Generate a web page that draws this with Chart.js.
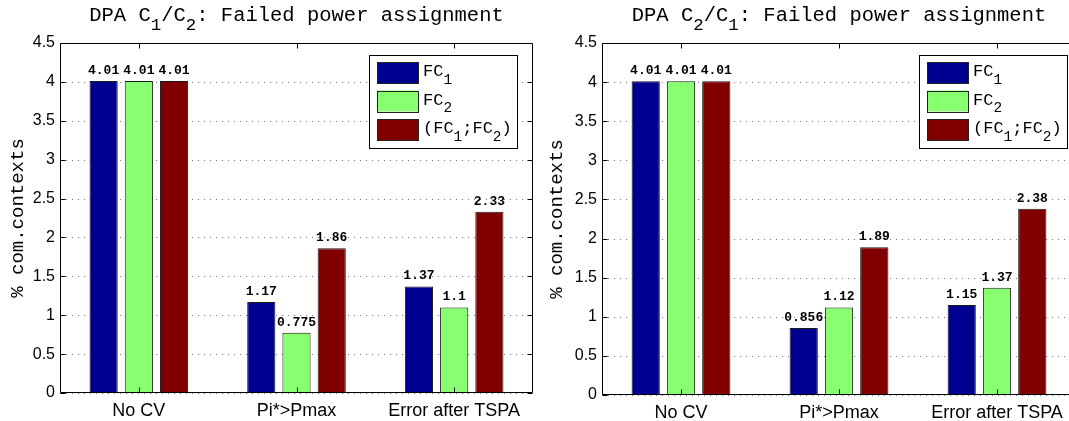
<!DOCTYPE html>
<html>
<head>
<meta charset="utf-8">
<script src="https://cdn.jsdelivr.net/npm/chart.js@4.4.0/dist/chart.umd.min.js"></script>
<style>
  html, body { margin: 0; padding: 0; background: #fff; }
  #wrap { position: relative; width: 1069px; height: 421px; overflow: hidden; background: #fff; }
  #wrap canvas { position: absolute; top: 0; }
</style>
</head>
<body>
<div id="wrap">
  <canvas id="leftChart" width="540" height="421" style="left:0px"></canvas>
  <canvas id="rightChart" width="560" height="421" style="left:535px"></canvas>
</div>
<script>
// --- data ---
const categories = ['No CV', 'Pi*>Pmax', 'Error after TSPA'];
const seriesNames = ['FC_1', 'FC_2', '(FC_1;FC_2)'];
const yTicks = [0, 0.5, 1, 1.5, 2, 2.5, 3, 3.5, 4, 4.5];

// DPA C1/C2
const leftFC1 = [4.01, 1.17, 1.37];
const leftFC2 = [4.01, 0.775, 1.1];
const leftBoth = [4.01, 1.86, 2.33];

// DPA C2/C1
const rightFC1 = [4.01, 0.856, 1.15];
const rightFC2 = [4.01, 1.12, 1.37];
const rightBoth = [4.01, 1.89, 2.38];

const leftTitle = 'DPA C_1/C_2: Failed power assignment';
const rightTitle = 'DPA C_2/C_1: Failed power assignment';
const yLabel = '% com.contexts';

const barColors = ['#000090', '#88ff70', '#800000'];
const MONO = "'Liberation Mono', 'Courier New', monospace";
const SANS = "'Liberation Sans', Arial, sans-serif";

// split "FC_1" style strings into normal / subscript pieces
function richParts(str) {
    const out = [];
    const re = /_(\w)/g;
    let last = 0, m;
    while ((m = re.exec(str))) {
        if (m.index > last) out.push({ t: str.slice(last, m.index), sub: false });
        out.push({ t: m[1], sub: true });
        last = re.lastIndex;
    }
    if (last < str.length) out.push({ t: str.slice(last), sub: false });
    return out;
}

function drawRich(ctx, str, x, y, size, align, weight) {
    const parts = richParts(str);
    const subSize = size * 0.85;
    const mainFont = (weight || 'normal') + ' ' + size + 'px ' + MONO;
    const subFont = (weight || 'normal') + ' ' + subSize + 'px ' + MONO;
    let total = 0;
    parts.forEach(p => {
        ctx.font = p.sub ? subFont : mainFont;
        p.w = ctx.measureText(p.t).width;
        total += p.w;
    });
    let cx = align === 'center' ? x - total / 2 : x;
    ctx.textAlign = 'left';
    ctx.textBaseline = 'alphabetic';
    parts.forEach(p => {
        ctx.font = p.sub ? subFont : mainFont;
        ctx.fillText(p.t, cx, p.sub ? y + size * 0.45 : y);
        cx += p.w;
    });
}

// matlab-like axes: dotted y grid, full box, inward ticks, title, y label
const matlabAxes = {
    id: 'matlabAxes',
    beforeDatasetsDraw(chart) {
        const { ctx, chartArea: a, scales: { y } } = chart;
        ctx.save();
        ctx.strokeStyle = '#777';
        ctx.lineWidth = 1;
        ctx.setLineDash([1, 5]);
        yTicks.forEach(v => {
            const py = Math.round(y.getPixelForValue(v)) + 0.5;
            ctx.beginPath();
            ctx.moveTo(a.left, py);
            ctx.lineTo(a.right, py);
            ctx.stroke();
        });
        ctx.restore();
    },
    afterDatasetsDraw(chart, args, opts) {
        const { ctx, chartArea: a, scales: { x, y } } = chart;
        ctx.save();
        ctx.strokeStyle = '#000';
        ctx.lineWidth = 1;
        const l = Math.round(a.left) + 0.5, r = Math.round(a.right) - 0.5;
        const t = Math.round(a.top) + 0.5, b = Math.round(a.bottom) - 0.5;
        ctx.beginPath();
        ctx.rect(l, t, r - l, b - t);
        ctx.stroke();
        // inward ticks
        ctx.beginPath();
        yTicks.forEach(v => {
            const py = Math.round(y.getPixelForValue(v)) + 0.5;
            ctx.moveTo(l, py); ctx.lineTo(l + 5, py);
            ctx.moveTo(r, py); ctx.lineTo(r - 5, py);
        });
        categories.forEach((c, i) => {
            const px = Math.round(x.getPixelForValue(i)) + 0.5;
            ctx.moveTo(px, t); ctx.lineTo(px, t + 5);
            ctx.moveTo(px, b); ctx.lineTo(px, b - 5);
        });
        ctx.stroke();

        // value labels
        ctx.fillStyle = '#000';
        ctx.font = 'bold 13px ' + MONO;
        ctx.textAlign = 'center';
        ctx.textBaseline = 'alphabetic';
        chart.data.datasets.forEach((ds, di) => {
            chart.getDatasetMeta(di).data.forEach((bar, i) => {
                ctx.fillText(String(ds.data[i]), bar.x, bar.y - 7);
            });
        });

        // title
        drawRich(ctx, opts.title, (a.left + a.right) / 2, 21, 20.5, 'center');

        // y label
        ctx.save();
        ctx.translate(a.left - opts.yLabelGap, (a.top + a.bottom) / 2);
        ctx.rotate(-Math.PI / 2);
        ctx.font = '19px ' + MONO;
        ctx.textAlign = 'center';
        ctx.textBaseline = 'middle';
        ctx.fillText(yLabel, 0, 0);
        ctx.restore();

        // legend box
        const lx = a.right - opts.legendRight - 148, ly = a.top + 12;
        ctx.fillStyle = '#fff';
        ctx.fillRect(lx, ly, 148, 93);
        ctx.strokeStyle = '#000';
        ctx.strokeRect(Math.round(lx) + 0.5, Math.round(ly) + 0.5, 148, 93);
        chart.data.datasets.forEach((ds, di) => {
            const sy = ly + 7 + di * 28.5;
            ctx.fillStyle = ds.backgroundColor;
            ctx.fillRect(lx + 8, sy, 41, 21);
            ctx.strokeStyle = '#222';
            ctx.strokeRect(Math.round(lx + 8) + 0.5, Math.round(sy) + 0.5, 41, 21);
            ctx.fillStyle = '#000';
            drawRich(ctx, seriesNames[di], lx + 54, sy + 14, 17, 'left');
        });
        ctx.restore();
    }
};

function makeChart(id, series, title, g) {
    const datasets = series.map((vals, i) => ({
        label: seriesNames[i],
        data: vals,
        backgroundColor: barColors[i],
        borderColor: '#1a1a1a',
        borderWidth: 1,
        borderSkipped: false,
        categoryPercentage: 0.67,
        barPercentage: 0.8
    }));
    return new Chart(document.getElementById(id), {
        type: 'bar',
        data: { labels: categories, datasets: datasets },
        plugins: [matlabAxes],
        options: {
            responsive: false,
            animation: false,
            devicePixelRatio: 1,
            layout: { padding: { top: g.top, right: g.width - g.right, bottom: 0, left: 0 } },
            plugins: {
                legend: { display: false },
                title: { display: false },
                tooltip: { enabled: false },
                matlabAxes: { title: title, legendRight: g.legendRight, yLabelGap: g.yLabelGap }
            },
            scales: {
                x: {
                    offset: true,
                    grid: { display: false, drawTicks: false },
                    border: { display: false },
                    ticks: { color: '#000', font: { family: SANS, size: 18 }, padding: 7, maxRotation: 0, autoSkip: false },
                    afterFit: s => { s.height = 421 - g.bottom; }
                },
                y: {
                    min: 0,
                    max: 4.5,
                    grid: { display: false, drawTicks: false },
                    border: { display: false },
                    afterBuildTicks: s => { s.ticks = yTicks.map(v => ({ value: v })); },
                    ticks: { color: '#000', font: { family: SANS, size: 16 }, padding: 5, callback: v => String(v) },
                    afterFit: s => { s.width = g.left; }
                }
            }
        }
    });
}

makeChart('leftChart', [leftFC1, leftFC2, leftBoth], leftTitle,
    { left: 60, right: 533, top: 43, bottom: 393, width: 540, legendRight: 16, yLabelGap: 42 });
makeChart('rightChart', [rightFC1, rightFC2, rightBoth], rightTitle,
    { left: 67, right: 541, top: 43, bottom: 395, width: 560, legendRight: 9, yLabelGap: 45 });
</script>
</body>
</html>
